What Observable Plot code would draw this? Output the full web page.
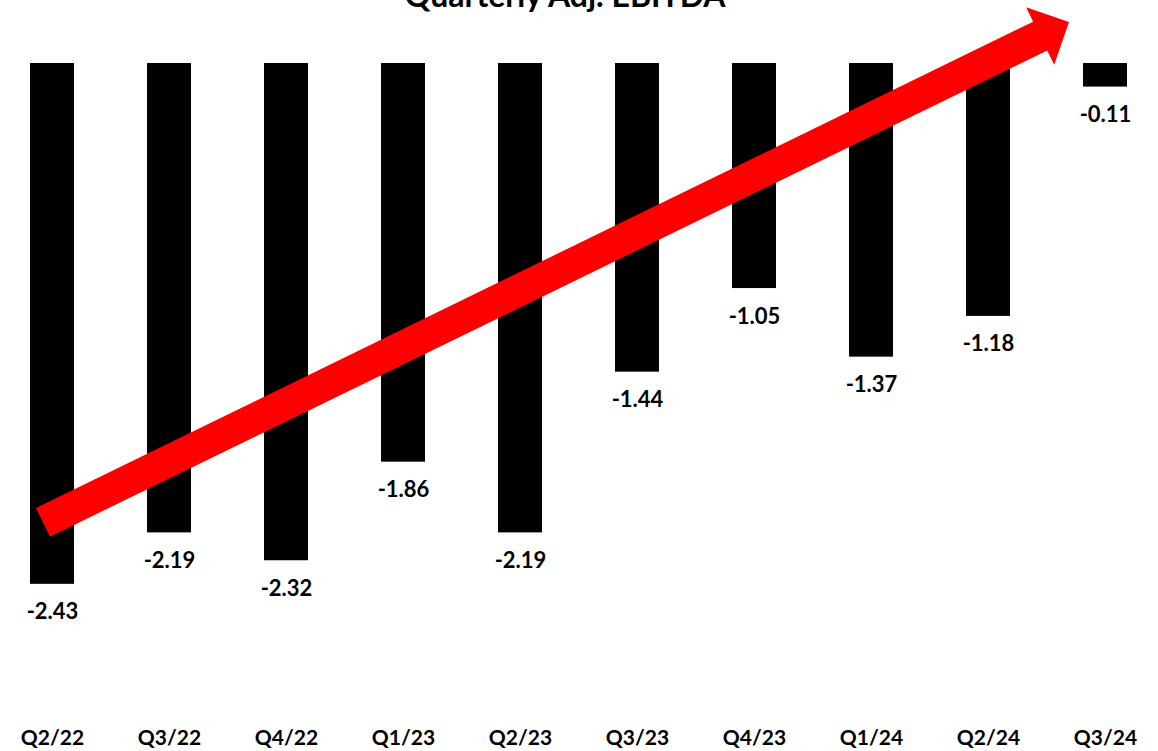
<!DOCTYPE html>
<html>
<head>
<meta charset="utf-8">
<script src="https://cdn.jsdelivr.net/npm/d3@7"></script>
<script src="https://cdn.jsdelivr.net/npm/@observablehq/plot@0.6"></script>
<style>
  html, body { margin: 0; padding: 0; background: #fff; overflow: hidden; }
  #wrap { position: relative; width: 1158px; height: 751px; }
  #title { position: absolute; left: 0; top: -21px; width: 1130px; text-align: center;
    font-family: Lato, "Open Sans", sans-serif; font-weight: bold; font-size: 32px; line-height: 32px; color: #000; z-index: 2; }
  #chart { position: absolute; left: 0; top: 0; }
</style>
</head>
<body>
<div id="wrap">
  <div id="title">Quarterly Adj. EBITDA</div>
  <div id="chart"></div>
</div>
<script>
const quarters = ["Q2/22", "Q3/22", "Q4/22", "Q1/23", "Q2/23", "Q3/23", "Q4/23", "Q1/24", "Q2/24", "Q3/24"];
const values = [-2.43, -2.19, -2.32, -1.86, -2.19, -1.44, -1.05, -1.37, -1.18, -0.11];
// trend arrow annotation, in (quarter index, value) units
const arrowFrom = {x: -0.077, y: -2.143};
const arrowTo = {x: 8.692, y: 0.191};

const data = quarters.map((q, i) => ({i, q, v: values[i]}));
const half = 0.188;

const arrowMark = Plot.line([arrowFrom, arrowTo], {
  x: "x", y: "y", stroke: "#ff0000", strokeWidth: 32,
  render(index, scales, vals) {
    const X = vals.x, Y = vals.y;
    const x0 = X[0], y0 = Y[0], x1 = X[1], y1 = Y[1];
    const dx = x1 - x0, dy = y1 - y0, len = Math.hypot(dx, dy);
    const ux = dx / len, uy = dy / len, px = -uy, py = ux;
    const hw = 16, hh = 32, hl = 32;
    const bx = x1 - ux * hl, by = y1 - uy * hl;
    const pts = [
      [x0 + px * hw, y0 + py * hw],
      [bx + px * hw, by + py * hw],
      [bx + px * hh, by + py * hh],
      [x1, y1],
      [bx - px * hh, by - py * hh],
      [bx - px * hw, by - py * hw],
      [x0 - px * hw, y0 - py * hw]
    ];
    const g = d3.create("svg:g");
    g.append("path").attr("d", "M" + pts.map(p => p.join(",")).join("L") + "Z").attr("fill", "#ff0000");
    return g.node();
  }
});

const chart = Plot.plot({
  width: 1158,
  height: 751,
  marginTop: 0,
  marginBottom: 45,
  marginLeft: 0,
  marginRight: 0,
  style: {fontFamily: "Lato, 'Open Sans', sans-serif", fontSize: "21px", fontWeight: "bold", color: "#000", overflow: "visible", background: "transparent"},
  x: {domain: [-52 / 117, 1106 / 117], axis: null},
  y: {domain: [-3, 189 / 643], axis: null},
  marks: [
    Plot.rect(data, {x1: d => d.i - half, x2: d => d.i + half, y1: 0, y2: "v", fill: "#000"}),
    Plot.text(data, {x: "i", y: "v", text: d => d.v.toFixed(2), dy: 28, fontSize: 22, fill: "#000", textAnchor: "middle", lineAnchor: "middle"}),
    Plot.axisX({ticks: d3.range(quarters.length), tickFormat: i => quarters[i], tickSize: 0, tickPadding: 24, fontSize: 21, fontWeight: "bold", fill: "#000"}),
    arrowMark
  ]
});
document.getElementById("chart").append(chart);
</script>
</body>
</html>
